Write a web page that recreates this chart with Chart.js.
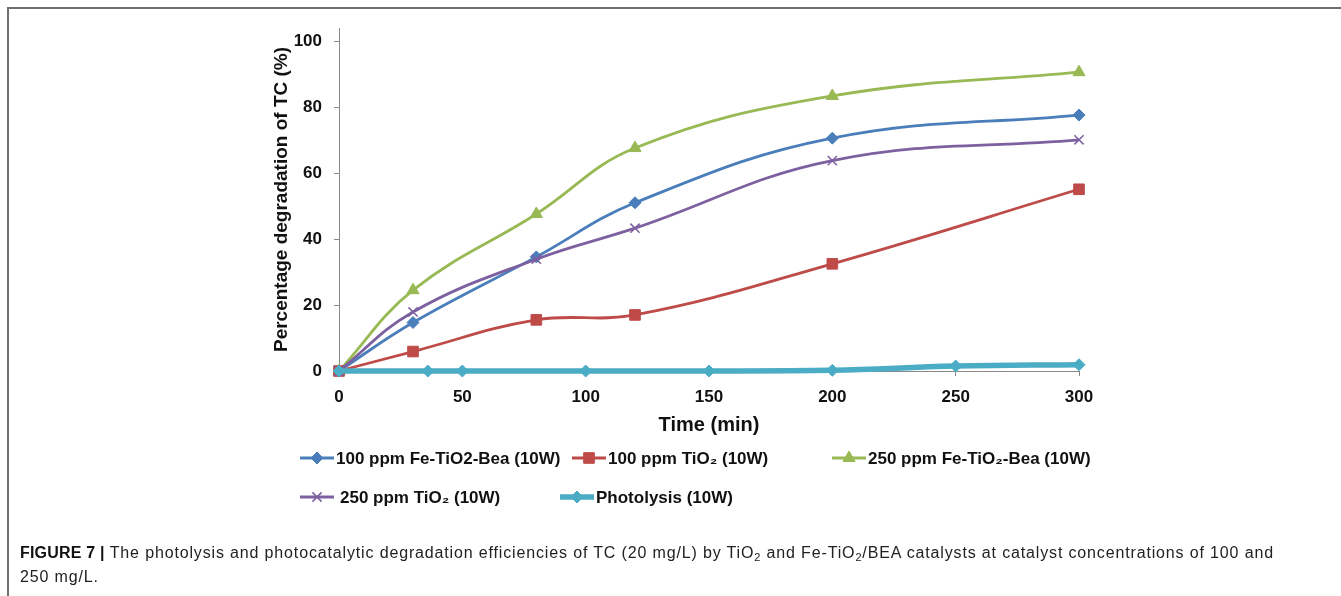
<!DOCTYPE html>
<html>
<head>
<meta charset="utf-8">
<script src="https://cdn.jsdelivr.net/npm/chart.js@4.4.1/dist/chart.umd.min.js"></script>
<style>
  html, body { margin: 0; padding: 0; background: #fff; }
  #wrap { position: relative; width: 1341px; height: 596px; overflow: hidden; }
  #frame { position: absolute; left: 7px; top: 7px; right: -4px; bottom: -4px;
           border-top: 2px solid #6f6f6f; border-left: 2px solid #6f6f6f; }
  #myChart { position: absolute; left: 0; top: 0; }
  #caption { position: absolute; left: 20px; top: 541px; width: 1310px;
             font-family: "Liberation Sans", Arial, sans-serif; font-size: 16px;
             letter-spacing: 0.85px; line-height: 24px; color: #222; white-space: nowrap; }
  #caption b { color: #111; letter-spacing: 0.2px; }
  sub { font-size: 11px; vertical-align: -3px; line-height: 0; }
</style>
</head>
<body>
<div id="wrap">
  <div id="frame"></div>
  <canvas id="myChart" width="1341" height="596"></canvas>
  <div id="caption"><b>FIGURE 7 |</b> The photolysis and photocatalytic degradation efficiencies of TC (20 mg/L) by TiO<sub>2</sub> and Fe-TiO<sub>2</sub>/BEA catalysts at catalyst concentrations of 100 and<br>250 mg/L.</div>
</div>
<script>
// time points (min)
var time = [0, 30, 80, 120, 200, 300];
var timePhoto = [0, 36, 50, 100, 150, 200, 250, 300];

// degradation (%)
var fe100 = [0, 14.7, 34.6, 51, 70.6, 77.6];
var tio100 = [0, 5.9, 15.5, 17, 32.5, 55.1];
var fe250 = [0, 24.5, 47.6, 67.6, 83.4, 90.6];
var tio250 = [0, 17.9, 33.9, 43.3, 63.8, 70.1];
var photo = [0, 0, 0, 0, 0, 0.2, 1.5, 1.9];

var labels = [
  "100 ppm Fe-TiO2-Bea (10W)",
  "100 ppm TiO\u2082 (10W)",
  "250 ppm Fe-TiO\u2082-Bea (10W)",
  "250 ppm TiO\u2082 (10W)",
  "Photolysis (10W)"
];
var xTicks = [0, 50, 100, 150, 200, 250, 300];
var yTicks = [0, 20, 40, 60, 80, 100];

function pts(xs, ys) {
  return xs.map(function (x, i) { return { x: x, y: ys[i] }; });
}

var FONT = "'Liberation Sans', Arial, sans-serif";

// legend slots (pixel layout of the original figure)
var legendPos = [
  { x: 300, y: 458 }, { x: 572, y: 458 }, { x: 832, y: 458 },
  { x: 300, y: 497 }, { x: 560, y: 497 }
];

var bottomLegend = {
  id: "bottomLegend",
  afterDraw: function (chart) {
    var ctx = chart.ctx;
    ctx.save();
    chart.data.datasets.forEach(function (ds, i) {
      var p = legendPos[i];
      var w = 34;
      ctx.strokeStyle = ds.borderColor;
      ctx.fillStyle = ds.borderColor;
      ctx.lineWidth = ds.borderWidth;
      ctx.beginPath();
      ctx.moveTo(p.x, p.y);
      ctx.lineTo(p.x + w, p.y);
      ctx.stroke();
      ctx.lineWidth = ds.pointBorderWidth;
      Chart.helpers.drawPoint(ctx, {
        pointStyle: ds.pointStyle,
        radius: ds.pointRadius,
        rotation: 0,
        borderWidth: ds.pointBorderWidth
      }, p.x + w / 2, p.y);
      ctx.fillStyle = "#111";
      ctx.font = "bold 17px " + FONT;
      ctx.textBaseline = "middle";
      ctx.textAlign = "left";
      var gap = i === 3 ? 6 : 2;
      ctx.fillText(ds.label, p.x + w + gap, p.y + 1);
    });
    ctx.restore();
  }
};

function series(label, xs, ys, color, style, radius, width, order) {
  return {
    label: label,
    data: pts(xs, ys),
    borderColor: color,
    backgroundColor: color,
    pointBackgroundColor: color,
    pointBorderColor: color,
    pointStyle: style,
    pointRadius: radius,
    pointBorderWidth: style === "crossRot" ? 1.5 : 1,
    borderWidth: width,
    showLine: true,
    fill: false,
    clip: false,
    tension: 0.4,
    order: order
  };
}

new Chart("myChart", {
  type: "scatter",
  data: {
    datasets: [
      series(labels[0], time, fe100, "#4a7ebb", "rectRot", 6, 2.8, 2),
      series(labels[1], time, tio100, "#be4b48", "rect", 7.5, 2.8, 3),
      series(labels[2], time, fe250, "#98b954", "triangle", 7, 2.8, 4),
      series(labels[3], time, tio250, "#7d60a0", "crossRot", 6.5, 2.8, 1),
      series(labels[4], timePhoto, photo, "#4bacc6", "rectRot", 6, 5.5, 0)
    ]
  },
  plugins: [bottomLegend],
  options: {
    responsive: false,
    animation: false,
    layout: { padding: { left: 266, right: 262, top: 28, bottom: 155 } },
    plugins: {
      legend: { display: false },
      tooltip: { enabled: false }
    },
    scales: {
      x: {
        type: "linear",
        min: 0,
        max: 300,
        afterFit: function (s) { s.height = 70; },
        afterBuildTicks: function (s) { s.ticks = xTicks.map(function (v) { return { value: v }; }); },
        border: { color: "#8a8a8a", width: 1 },
        grid: { display: true, drawOnChartArea: false, drawTicks: true, tickLength: 5, color: "#8a8a8a" },
        ticks: { color: "#111", padding: 11, font: { family: FONT, size: 17, weight: "bold" } },
        title: { display: true, text: "Time (min)", color: "#111", padding: { top: 13 },
                 font: { family: FONT, size: 20, weight: "bold" } }
      },
      y: {
        type: "linear",
        min: 0,
        max: 104,
        afterFit: function (s) { s.width = 73; },
        afterBuildTicks: function (s) { s.ticks = yTicks.map(function (v) { return { value: v }; }); },
        border: { color: "#8a8a8a", width: 1 },
        grid: { display: true, drawOnChartArea: false, drawTicks: true, tickLength: 5, color: "#8a8a8a" },
        ticks: { color: "#111", padding: 12, font: { family: FONT, size: 17, weight: "bold" } },
        title: { display: true, text: "Percentage degradation of TC (%)", color: "#111",
                 padding: { bottom: 0 },
                 font: { family: FONT, size: 19, weight: "bold" } }
      }
    }
  }
});
</script>
</body>
</html>
